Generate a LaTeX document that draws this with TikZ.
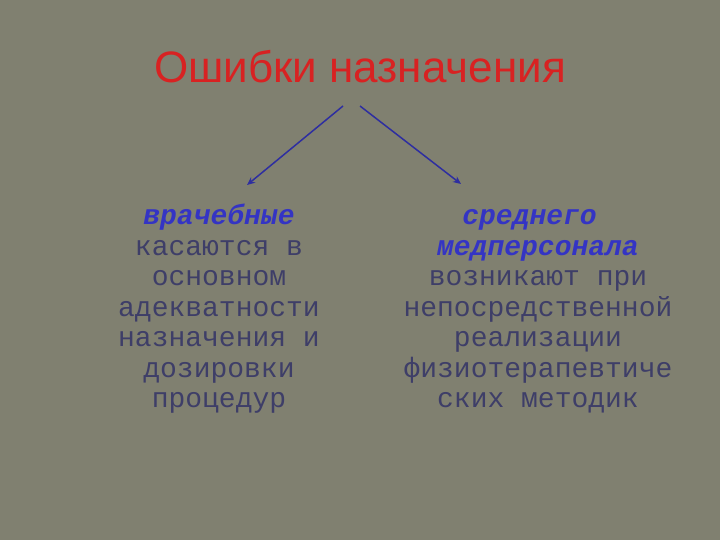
\documentclass[tikz,border=0pt]{standalone}
\usepackage{fontspec}
\setmainfont{Liberation Sans}
\setmonofont{Liberation Mono}
\usetikzlibrary{arrows,arrows.meta}

\definecolor{slidebg}{RGB}{128,128,112}
\definecolor{titlered}{RGB}{216,34,34}
\definecolor{headblue}{RGB}{52,52,196}
\definecolor{bodyink}{RGB}{62,62,104}
\definecolor{arrowblue}{RGB}{46,46,160}

\tikzset{
  errtitle/.style={anchor=base, inner sep=0pt, text=titlered,
    font=\fontsize{44}{50}\selectfont},
  errnote/.style={anchor=north, align=center, inner sep=0pt, text=bodyink,
    font=\fontsize{28}{30.5}\selectfont\ttfamily},
  errarrow/.style={draw=arrowblue, line width=1.5pt, ->},
}
\newcommand{\errhead}[1]{{\color{headblue}\bfseries\itshape #1}}

\begin{document}
\begin{tikzpicture}[x=1pt, y=-1pt, >={Stealth[length=8pt,width=7pt]}]
\fill[slidebg] (0,0) rectangle (720,540);
\useasboundingbox (0,0) rectangle (720,540);
%
\draw (360,83) node[errtitle] (title) {Ошибки назначения};
%
\draw (219,203) node[errnote] (doctor) {\strut\errhead{врачебные}\\
  касаются в\\ основном\\ адекватности\\ назначения и\\ дозировки\\ процедур};
\draw (538,203) node[errnote] (nurse) {\strut\errhead{среднего}\hphantom{x}\\
  \errhead{медперсонала}\\ возникают при\\ непосредственной\\ реализации\\
  физиотерапевтиче\\ ских методик};
%
\coordinate (fork-l) at (343,106);
\coordinate (fork-r) at (360,106);
\coordinate (tip-l) at (247,185);
\coordinate (tip-r) at (461,184);
\path[errarrow] (fork-l) -- (tip-l);
\path[errarrow] (fork-r) -- (tip-r);
\end{tikzpicture}
\end{document}
